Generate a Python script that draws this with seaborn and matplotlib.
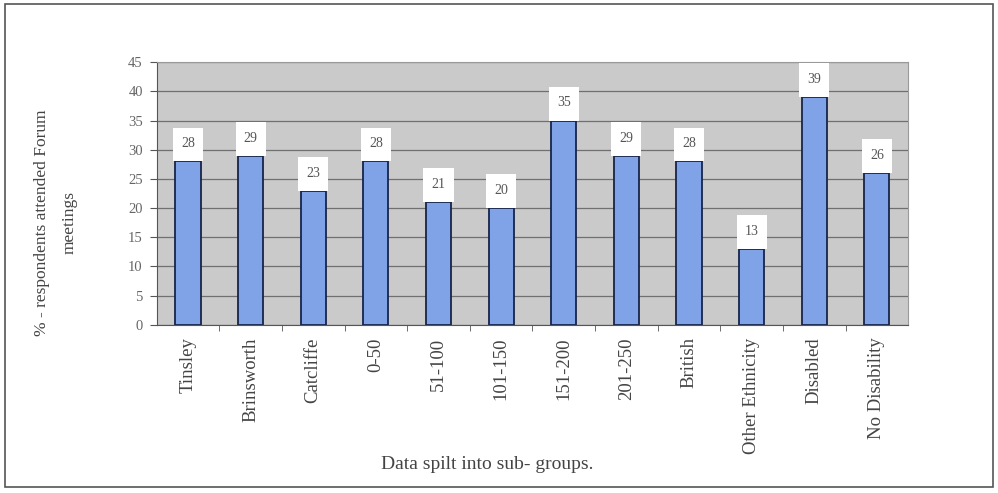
import matplotlib
matplotlib.use('Agg')
import matplotlib.pyplot as plt
from matplotlib.patches import Rectangle
import pandas as pd
import seaborn as sns

# Data
groups = ['Tinsley', 'Brinsworth', 'Catcliffe', '0-50', '51-100', '101-150',
          '151-200', '201-250', 'British', 'Other Ethnicity', 'Disabled', 'No Disability']
percent = [28, 29, 23, 28, 21, 20, 35, 29, 28, 13, 39, 26]
y_ticks = [0, 5, 10, 15, 20, 25, 30, 35, 40, 45]

df = pd.DataFrame({'group': groups, 'percent': percent})

sns.set_style("white")
plt.rcParams['font.family'] = ['Liberation Serif', 'DejaVu Serif']

fig = plt.figure(figsize=(9.98, 4.93), dpi=100)
ax = fig.add_axes([0.157, 0.341, 0.753, 0.533])

sns.barplot(data=df, x='group', y='percent', ax=ax, color='#80a2e6',
            edgecolor='#17244a', linewidth=1.3, width=0.4, saturation=1)

# Gray plot area with gridlines
ax.set_facecolor('#cacaca')
ax.set_ylim(0, 45)
ax.set_xlim(-0.5, len(groups) - 0.5)
ax.set_yticks(y_ticks)
ax.yaxis.grid(True, color='#707070', linewidth=0.9)
ax.set_axisbelow(True)
for side in ['top', 'right']:
    ax.spines[side].set_color('#9a9a9a')
for side in ['left', 'bottom']:
    ax.spines[side].set_color('#555555')

# Value labels in white boxes on top of bars
for i, v in enumerate(percent):
    ax.add_patch(Rectangle((i - 0.24, v), 0.48, 5.8, facecolor='white',
                           edgecolor='none', zorder=3))
    ax.text(i, v + 3.0, str(v), ha='center', va='center', fontsize=10,
            color='#555555', zorder=4)

ax.tick_params(axis='y', length=5, color='#555555', labelsize=10.5,
               labelcolor='#666666', left=True, pad=5)
ax.tick_params(axis='x', length=0, labelsize=13.5, labelcolor='#444444', pad=9)
ax.set_xticks(range(len(groups)))
ax.set_xticklabels(groups, rotation=90)
ax.set_xticks([i + 0.5 for i in range(len(groups) - 1)], minor=True)
ax.tick_params(axis='x', which='minor', length=4, color='#555555', bottom=True)

ax.set_xlabel('Data spilt into sub- groups.', fontsize=14, color='#444444')
ax.xaxis.set_label_coords(0.44, -0.50)
ax.set_ylabel('% - respondents attended Forum\nmeetings', fontsize=12.5,
              color='#444444', linespacing=2.0)
ax.yaxis.set_label_coords(-0.105, 0.39)

# Outer frame of the chart
fig.patches.append(Rectangle((0.005, 0.012), 0.99, 0.98, transform=fig.transFigure,
                             fill=False, edgecolor='#555555', linewidth=1.2))

plt.savefig('out.png', dpi=100)
plt.close()
